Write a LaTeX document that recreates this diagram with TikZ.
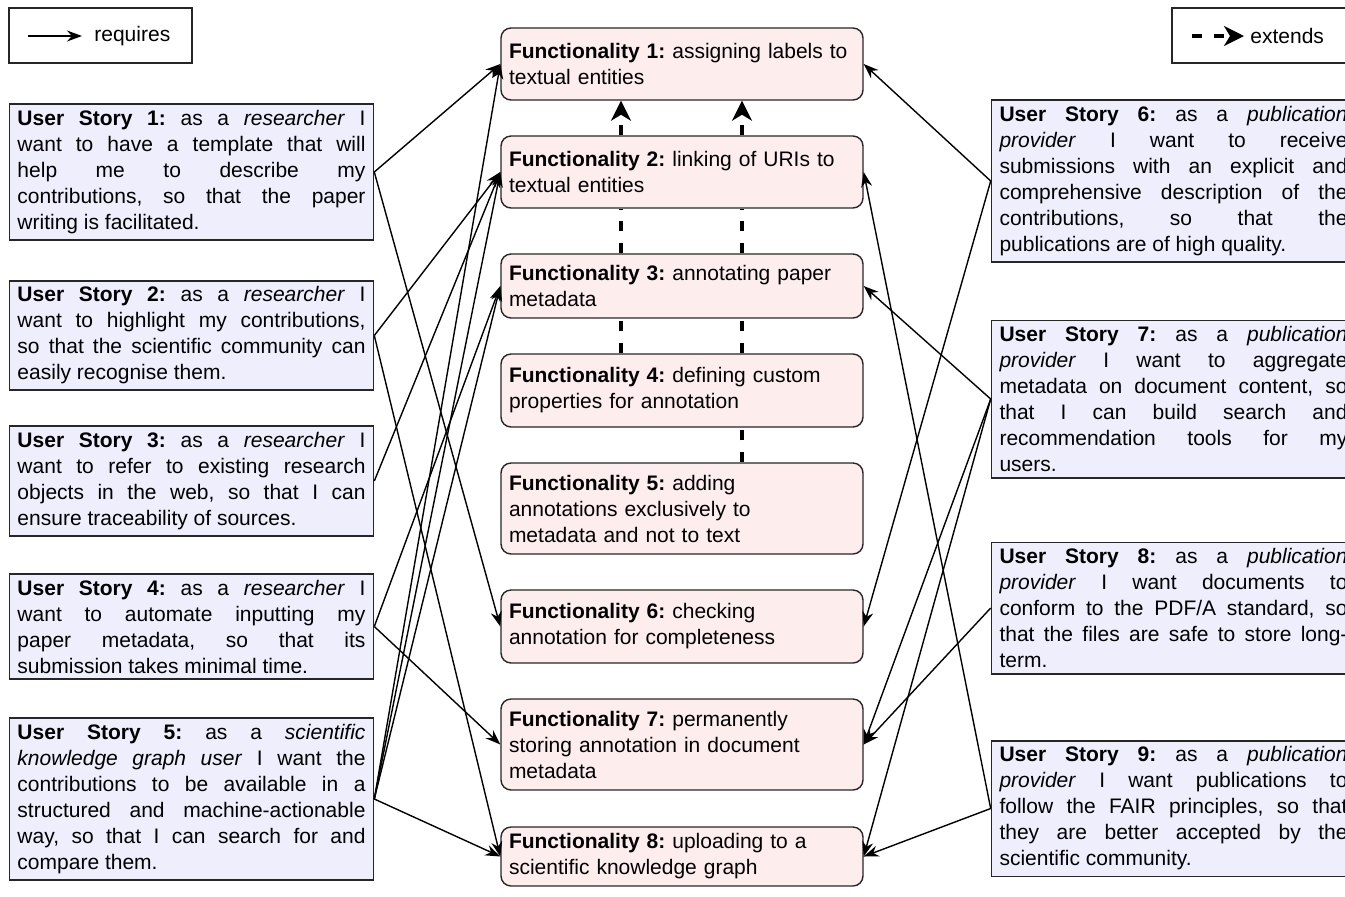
\documentclass[tikz,border=0pt]{standalone}
\usepackage{fontspec}
\setmainfont{Liberation Sans}
\usepackage{xcolor}
\usepackage{tikz}
\usetikzlibrary{arrows.meta,shapes}
\frenchspacing
\definecolor{storyfill}{RGB}{238,238,253}
\definecolor{funcfill}{RGB}{253,237,237}
\tikzstyle{story}=[rectangle,draw=black!85,fill=storyfill,line width=0.8pt,text width=174pt,align=justify,inner xsep=4pt,inner ysep=3pt,font=\fontsize{10.5}{13}\selectfont]
\tikzstyle{func}=[rectangle,rounded corners=5pt,draw=black!85,fill=funcfill,line width=0.7pt,text width=173pt,align=left,inner xsep=4pt,font=\fontsize{10.5}{13}\selectfont]
\tikzstyle{legend}=[rectangle,draw=black!85,line width=0.8pt,minimum width=91.5pt,minimum height=27.5pt]
\tikzstyle{requires}=[-{Stealth[length=7.5pt,width=5.5pt]},line width=0.7pt]
\tikzstyle{extends}=[-{Stealth[length=10pt,width=10pt,inset=3pt]},line width=1.6pt,dash pattern=on 5pt off 6pt]

\begin{document}
\begin{tikzpicture}[x=0.5pt,y=-0.5pt]
        \useasboundingbox (0,0) rectangle (1345,896);
        \clip (0,0) rectangle (1345,896);

        % legend
        \node at (100.5,35.5) [legend] (reqbox) {};
        \coordinate (reqa) at (28,36);
        \node at (82,36) [anchor=west,inner xsep=6pt,font=\fontsize{10.5}{13}\selectfont] (reqt) {requires};
        \draw [requires] (reqa) -- (reqt.west);
        \node at (1263.5,35.5) [legend] (extbox) {};
        \coordinate (exta) at (1192,36);
        \node at (1244,36) [anchor=west,inner xsep=3pt,font=\fontsize{10.5}{13}\selectfont] (extt) {extends};
        \draw [extends] (exta) -- (extt.west);

        % user stories
        \node at (191.5,172) [story] (us1) {\textbf{User Story 1:} as a \textit{researcher} I\linebreak want to have a template that will\linebreak help me to describe my\linebreak contributions, so that the paper\linebreak writing is facilitated.};
        \node at (191.5,335.5) [story] (us2) {\textbf{User Story 2:} as a \textit{researcher} I\linebreak want to highlight my contributions,\linebreak so that the scientific community can\linebreak easily recognise them.};
        \node at (191.5,481) [story] (us3) {\textbf{User Story 3:} as a \textit{researcher} I\linebreak want to refer to existing research\linebreak objects in the web, so that I can\linebreak ensure traceability of sources.};
        \node at (191.5,626.5) [story] (us4) {\textbf{User Story 4:} as a \textit{researcher} I\linebreak want to automate inputting my\linebreak paper metadata, so that its\linebreak submission takes minimal time.};
        \node at (191.5,799) [story] (us5) {\textbf{User Story 5:} as a \textit{scientific}\linebreak \textit{knowledge graph user} I want the\linebreak contributions to be available in a\linebreak structured and machine-actionable\linebreak way, so that I can search for and\linebreak compare them.};
        \node at (1173.5,181) [story] (us6) {\textbf{User Story 6:} as a \textit{publication}\linebreak \textit{provider} I want to receive\linebreak submissions with an explicit and\linebreak comprehensive description of the\linebreak contributions, so that the\linebreak publications are of high quality.};
        \node at (1173.5,399) [story] (us7) {\textbf{User Story 7:} as a \textit{publication}\linebreak \textit{provider} I want to aggregate\linebreak metadata on document content, so\linebreak that I can build search and\linebreak recommendation tools for my\linebreak users.};
        \node at (1173.5,608) [story] (us8) {\textbf{User Story 8:} as a \textit{publication}\linebreak \textit{provider} I want documents to\linebreak conform to the PDF/A standard, so\linebreak that the files are safe to store long-\linebreak term.};
        \node at (1173.5,808.5) [story] (us9) {\textbf{User Story 9:} as a \textit{publication}\linebreak \textit{provider} I want publications to\linebreak follow the FAIR principles, so that\linebreak they are better accepted by the\linebreak scientific community.};

        % functionalities
        \node at (682,64) [func,minimum height=36pt] (f1) {\textbf{Functionality 1:} assigning labels to\\textual entities};
        \node at (682,172) [func,minimum height=36pt] (f2) {\textbf{Functionality 2:} linking of URIs to\\textual entities};
        \node at (682,286) [func,minimum height=32pt] (f3) {\textbf{Functionality 3:} annotating paper\\metadata};
        \node at (682,390.5) [func,minimum height=36.5pt] (f4) {\textbf{Functionality 4:} defining custom\\properties for annotation};
        \node at (682,508.5) [func,minimum height=45.5pt] (f5) {\textbf{Functionality 5:} adding\\annotations exclusively to\\metadata and not to text};
        \node at (682,626.5) [func,minimum height=36.5pt] (f6) {\textbf{Functionality 6:} checking\\annotation for completeness};
        \node at (682,744.5) [func,minimum height=45.5pt] (f7) {\textbf{Functionality 7:} permanently\\storing annotation in document\\metadata};
        \node at (682,856.5) [func,minimum height=29.5pt] (f8) {\textbf{Functionality 8:} uploading to a\\scientific knowledge graph};

        % extends
        \draw [extends] ([xshift=-30.5pt]f2.north) -- ([xshift=-30.5pt]f1.south);
        \draw [extends] ([xshift=30pt]f2.north) -- ([xshift=30pt]f1.south);
        \draw [extends,-] ([xshift=-30.5pt]f3.north) -- ([xshift=-30.5pt]f2.south);
        \draw [extends,-] ([xshift=30pt]f3.north) -- ([xshift=30pt]f2.south);
        \draw [extends,-] ([xshift=-30.5pt]f4.north) -- ([xshift=-30.5pt]f3.south);
        \draw [extends,-] ([xshift=30pt]f4.north) -- ([xshift=30pt]f3.south);
        \draw [extends,-] ([xshift=30pt]f5.north) -- ([xshift=30pt]f4.south);

        % requires, left side
        \draw [requires] (us1.east) -- (f1.west);
        \draw [requires] (us1.east) -- (f6.west);
        \draw [requires] (us2.east) -- (f2.west);
        \draw [requires] (us2.east) -- (f8.west);
        \draw [requires] (us3.east) -- (f2.west);
        \draw [requires] (us4.east) -- (f3.west);
        \draw [requires] (us4.east) -- (f7.west);
        \draw [requires] (us5.east) -- (f1.west);
        \draw [requires] (us5.east) -- (f2.west);
        \draw [requires] (us5.east) -- (f3.west);
        \draw [requires] (us5.east) -- (f8.west);

        % requires, right side
        \draw [requires] (us6.west) -- (f1.east);
        \draw [requires] (us6.west) -- (f6.east);
        \draw [requires] (us7.west) -- (f3.east);
        \draw [requires] (us7.west) -- (f7.east);
        \draw [requires] (us7.west) -- (f8.east);
        \draw [requires] (us8.west) -- (f7.east);
        \draw [requires] (us9.west) -- (f2.east);
        \draw [requires] (us9.west) -- (f8.east);
\end{tikzpicture}
\end{document}
